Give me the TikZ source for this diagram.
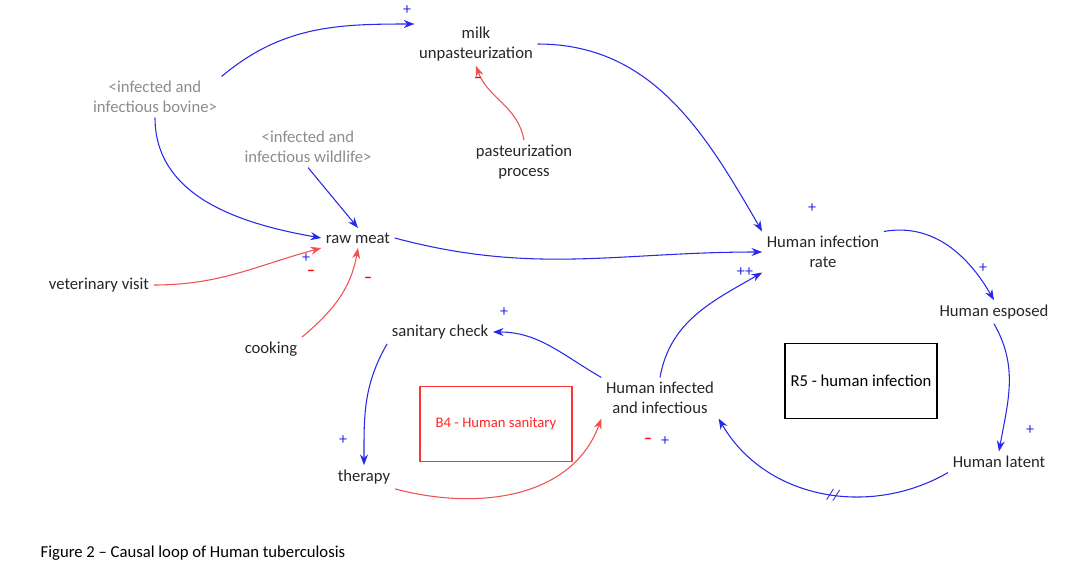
\documentclass[tikz,border=0pt]{standalone}
\usepackage{fontspec}
\setmainfont{Carlito}
\usetikzlibrary{arrows.meta}
\definecolor{linkblue}{RGB}{40,40,235}
\definecolor{linkred}{RGB}{240,80,80}
\begin{document}
\begin{tikzpicture}[
        x=0.75pt, y=-0.75pt,
        every node/.style={align=center, font=\fontsize{12.5}{15}\selectfont},
        var/.style={text=black!85},
        shadow/.style={text=black!45},
        loopbox/.style={draw, thick, minimum width=114pt, minimum height=56pt},
        pos link/.style={draw=linkblue, thick, -{Stealth[length=8pt,width=6pt]}}, % blue links
        neg link/.style={draw=linkred, thick, -{Stealth[length=8pt,width=6pt]}}, % red links
        plus/.style={text=linkblue, font=\fontsize{12}{12}\selectfont, inner sep=0pt},
        minus/.style={text=red, font=\fontsize{12}{12}\selectfont\bfseries, inner sep=0pt}
    ]
    \useasboundingbox (0,0) rectangle (1067,579);
    % variables
    \node[var] (milk) at (476,44) {milk\\unpasteurization};
    \node[shadow] (bovine) at (155,97) {<infected and\\infectious bovine>};
    \node[shadow] (wildlife) at (308,147) {<infected and\\infectious wildlife>};
    \node[var] (past) at (524,162) {pasteurization\\process};
    \node[var] (meat) at (358,238) {raw meat};
    \node[var] (rate) at (823,252) {Human infection\\rate};
    \node[var] (vet) at (99,285) {veterinary visit};
    \node[var] (cook) at (271,349) {cooking};
    \node[var] (check) at (440,332) {sanitary check};
    \node[var] (exposed) at (994,312) {Human esposed};
    \node[var] (infected) at (660,398) {Human infected\\and infectious};
    \node[var] (therapy) at (364,477) {therapy};
    \node[var] (latent) at (999,462) {Human latent};
    \node[loopbox, draw=red!80] (b4) at (496,424) {\textcolor{red!85}{\fontsize{11}{13}\selectfont B4 - Human sanitary}};
    \node[loopbox] (r5) at (861,381) {R5 - human infection};
    \node[anchor=west, font=\fontsize{12.5}{15}\selectfont] (caption) at (36,553) {Figure 2 -- Causal loop of Human tuberculosis};
    % links
    \draw[pos link] (bovine.north east) to[out=40, in=180] (milk.west |- 0,24);
    \draw[pos link] (milk.east) to[out=0, in=120] (rate.north west);
    \draw[pos link] (bovine.south) to[out=-90, in=170] (meat.west);
    \draw[pos link] (wildlife.south) -- (meat.north);
    \draw[neg link] (past.north) to[out=100, in=-70] (milk.south);
    \draw[pos link] (meat.east) to[out=-15, in=180] (rate.west);
    \draw[neg link] (vet.east) to[out=0, in=-165] (meat.south west);
    \draw[neg link] (cook.north east) to[out=40, in=-100] (meat.south);
    \draw[pos link] (rate.north east) to[out=10, in=120] (exposed.north);
    \draw[pos link] (exposed.south) to[out=-60, in=80] (latent.north);
    \draw[pos link] (latent.south west) to[out=-150, in=-60] node[pos=0.45, sloped, font=\large, text=linkblue] {//} (infected.south east);
    \draw[pos link] (infected.north) to[out=80, in=-150] (rate.south west);
    \draw[pos link] (infected.north west) to[out=150, in=0] (check.east);
    \draw[pos link] (check.south west) to[out=-120, in=90] (therapy.north);
    \draw[neg link] (therapy.south east) to[out=-15, in=-110] (infected.south west);
    % polarities
    \node[plus] at (407,10) {+};
    \node[plus] at (812,208) {+};
    \node[plus] at (306,258) {+};
    \node[minus] at (478,80) {--};
    \node[minus] at (311,273) {--};
    \node[minus] at (368,280) {--};
    \node[plus] at (983,268) {+};
    \node[plus] at (1030,430) {+};
    \node[plus] at (665,441) {+};
    \node[plus] at (745,272) {++};
    \node[plus] at (504,312) {+};
    \node[plus] at (343,440) {+};
    \node[minus] at (648,441) {--};
\end{tikzpicture}
\end{document}
